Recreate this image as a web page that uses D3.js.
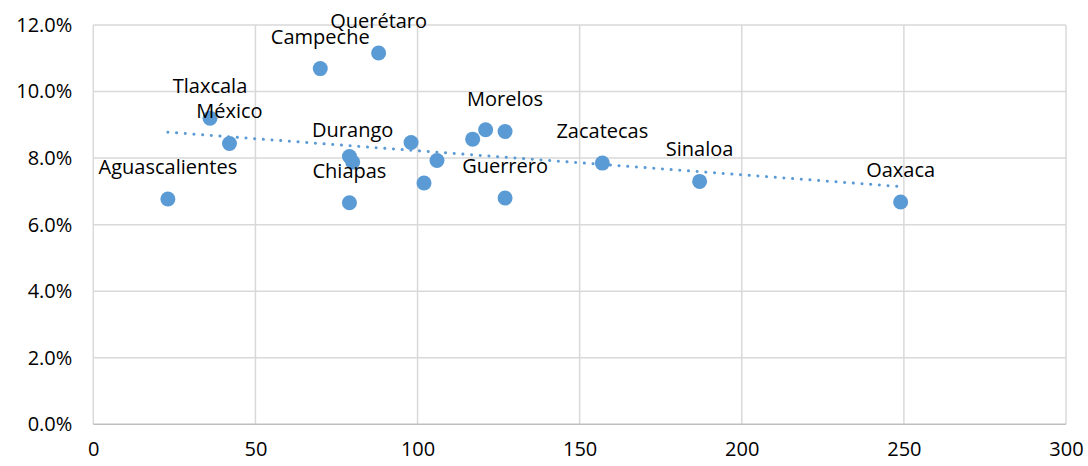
<!DOCTYPE html>
<html>
<head>
<meta charset="utf-8">
<script src="https://cdn.jsdelivr.net/npm/d3@7"></script>
<style>
  body { margin: 0; background: #fff; }
  text { font-family: "Open Sans", "Noto Sans", sans-serif; fill: #000; }
</style>
</head>
<body>
<script>
// svg size and plot area
var w = 1088;
var h = 466;
var plotLeft = 93.3, plotRight = 1066, plotTop = 25, plotBottom = 424.3;

// data (x value, share in %)
var states = ["Aguascalientes", "Tlaxcala", "México", "Campeche", "Querétaro", "", "Durango", "Chiapas",
              "", "", "", "", "", "Morelos", "Guerrero", "Zacatecas", "Sinaloa", "Oaxaca"];
var xValues = [23, 36, 42, 70, 88, 79, 80, 79, 98, 106, 102, 117, 121, 127, 127, 157, 187, 249];
var yValues = [6.77, 9.20, 8.44, 10.69, 11.16, 8.05, 7.88, 6.66, 8.47, 7.93, 7.25, 8.57, 8.85, 8.80, 6.80, 7.85, 7.30, 6.68];

var xTicks = [0, 50, 100, 150, 200, 250, 300];
var yTicks = [0, 2, 4, 6, 8, 10, 12];

var blue = "#5b9bd5";
var gridColor = "#d9d9d9";

var svg = d3.select("body")
            .append("svg")
            .attr("width", w)
            .attr("height", h);

var xScale = d3.scaleLinear().domain([0, 300]).range([plotLeft, plotRight]);
var yScale = d3.scaleLinear().domain([0, 12]).range([plotBottom, plotTop]);

// vertical grid lines
svg.append("g")
   .selectAll("line")
   .data(xTicks)
   .enter()
   .append("line")
   .attr("x1", d => xScale(d))
   .attr("x2", d => xScale(d))
   .attr("y1", plotTop)
   .attr("y2", plotBottom)
   .attr("stroke", gridColor)
   .attr("stroke-width", 1.5);

// horizontal grid lines
svg.append("g")
   .selectAll("line")
   .data(yTicks)
   .enter()
   .append("line")
   .attr("x1", plotLeft)
   .attr("x2", plotRight)
   .attr("y1", d => yScale(d))
   .attr("y2", d => yScale(d))
   .attr("stroke", d => d == 0 ? "#bfbfbf" : gridColor)
   .attr("stroke-width", 1.5);

// x axis labels
var xAxis = svg.append("g")
   .attr("transform", "translate(0," + (plotBottom + 11) + ")")
   .call(d3.axisBottom(xScale).tickValues(xTicks).tickSize(0).tickPadding(6));
xAxis.select(".domain").remove();
xAxis.selectAll("text")
     .attr("font-family", null)
     .style("font-size", "20px");

// y axis labels
var yAxis = svg.append("g")
   .attr("transform", "translate(" + (plotLeft - 21) + ",0)")
   .call(d3.axisLeft(yScale).tickValues(yTicks).tickSize(0).tickPadding(0)
           .tickFormat(d => d.toFixed(1) + "%"));
yAxis.select(".domain").remove();
yAxis.selectAll("text")
     .attr("font-family", null)
     .style("font-size", "20px");

// linear trend line over the data range
var n = xValues.length;
var mx = d3.mean(xValues), my = d3.mean(yValues);
var sxy = 0, sxx = 0;
for (var i = 0; i < n; i++) {
  sxy += (xValues[i] - mx) * (yValues[i] - my);
  sxx += (xValues[i] - mx) * (xValues[i] - mx);
}
var slope = sxy / sxx;
var icept = my - slope * mx;
var xr = d3.extent(xValues);

svg.append("line")
   .attr("x1", xScale(xr[0]))
   .attr("x2", xScale(xr[1]))
   .attr("y1", yScale(icept + slope * xr[0]))
   .attr("y2", yScale(icept + slope * xr[1]))
   .attr("stroke", blue)
   .attr("stroke-width", 3)
   .attr("stroke-linecap", "round")
   .attr("stroke-dasharray", "0.1 8.6");

// points
svg.append("g")
   .selectAll("circle")
   .data(xValues)
   .enter()
   .append("circle")
   .attr("cx", d => xScale(d))
   .attr("cy", (d, i) => yScale(yValues[i]))
   .attr("r", 7.5)
   .attr("fill", blue);

// state labels above points
svg.append("g")
   .selectAll("text")
   .data(states)
   .enter()
   .append("text")
   .attr("x", (d, i) => xScale(xValues[i]))
   .attr("y", (d, i) => yScale(yValues[i]) - 25)
   .attr("text-anchor", "middle")
   .style("font-size", "20px")
   .text(d => d);
</script>
</body>
</html>
